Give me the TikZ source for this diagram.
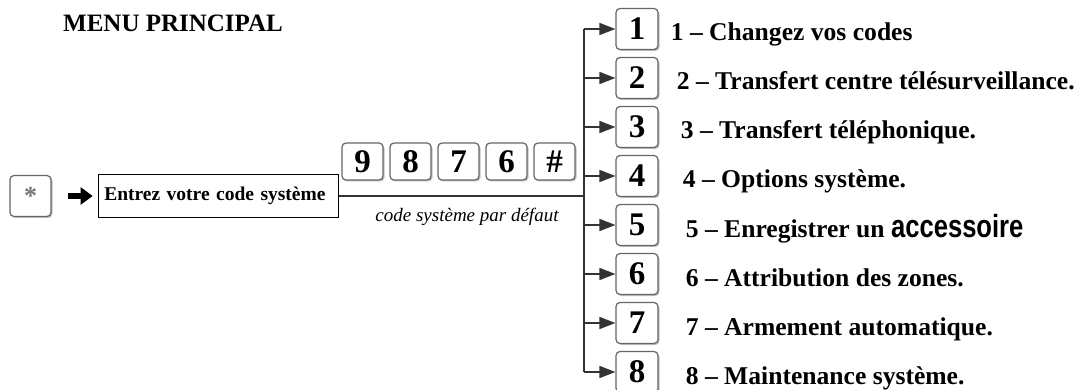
\documentclass[tikz,border=0pt]{standalone}
\usepackage{fontspec}
\setmainfont{Liberation Serif}
\newfontfamily\accfont[FakeStretch=0.8]{Liberation Sans}
\usetikzlibrary{positioning, arrows.meta, shadows}

\tikzset{
  touche/.style={draw=black!60, line width=1.2pt, rounded corners=4pt, fill=white,
    drop shadow={shadow xshift=1.5pt, shadow yshift=-1.5pt, fill=black!50},
    inner sep=0pt, font=\bfseries\fontsize{33}{33}\selectfont},
  toucheMenu/.style={touche, minimum width=42pt, minimum height=41pt},
  toucheCode/.style={touche, minimum width=41pt, minimum height=37pt},
  fil/.style={draw=black!80, line width=1.6pt},
  fleche/.style={-{Triangle[length=16pt, width=12pt]}},
  ligne/.style={anchor=base west, inner sep=0pt, font=\bfseries\fontsize{25.6}{26}\selectfont},
}

\begin{document}
\begin{tikzpicture}[x=1pt, y=-1pt, >=stealth]
  \useasboundingbox (0,0) rectangle (1079,390);
  \node[ligne, font=\bfseries\fontsize{25}{25}\selectfont] (titre) at (63,32) {MENU PRINCIPAL};

  % touche etoile + saisie du code
  \node[touche, minimum width=41pt, minimum height=41pt, text=black!55,
        font=\bfseries\fontsize{26}{26}\selectfont] (etoile) at (30.5,196) {\raisebox{-4pt}{*}};
  \node[draw, line width=1.3pt, minimum height=43pt, text width=228pt, align=left,
        inner xsep=6pt, right=46pt of etoile, font=\bfseries\fontsize{19.5}{20}\selectfont]
        (entrez) {Entrez votre code système};
  \draw[line width=6pt, -{Triangle[length=12pt, width=17pt]}, shorten <=16pt, shorten >=5pt]
        (etoile) -- (entrez);

  % code par defaut 9876#
  \node[toucheCode] (c9) at (362.5,161.5) {9};
  \foreach \n/\t/\p in {8/8/9, 7/7/8, 6/6/7, h/\#/6}
    \node[toucheCode, right=5.8pt of c\p] (c\n) {\t};
  \node[anchor=base, inner sep=0pt, font=\itshape\fontsize{19}{19}\selectfont]
        (defaut) at (467,222) {code système par défaut};

  % menu 1..8
  \coordinate (tr) at (584,0);
  \node[toucheMenu] (k1) at (637,29) {1};
  \foreach \i [count=\j] in {2,...,8}
    \node[toucheMenu, below=6.8pt of k\j] (k\i) {\i};
  \draw[fil] (entrez.east) -- (entrez.east -| tr);
  \draw[fil] (k1.west -| tr) -- (k8.west -| tr);
  \foreach \i in {1,...,8}
    \draw[fil, fleche] (k\i.west -| tr) -- (k\i.west);

  \foreach \i/\dx/\txt in {1/12/{Changez vos codes},
      2/18/{Transfert centre télésurveillance.},
      3/22/{Transfert téléphonique.},
      4/24/{Options système.},
      5/27/{Enregistrer un {\accfont\fontsize{32}{32}\selectfont accessoire}},
      6/27/{Attribution des zones.},
      7/27/{Armement automatique.},
      8/27/{Maintenance système.}}
    \node[ligne] (t\i) at ([xshift=\dx pt, yshift=-12pt]k\i.east) {\i~--~\txt};
\end{tikzpicture}
\end{document}
